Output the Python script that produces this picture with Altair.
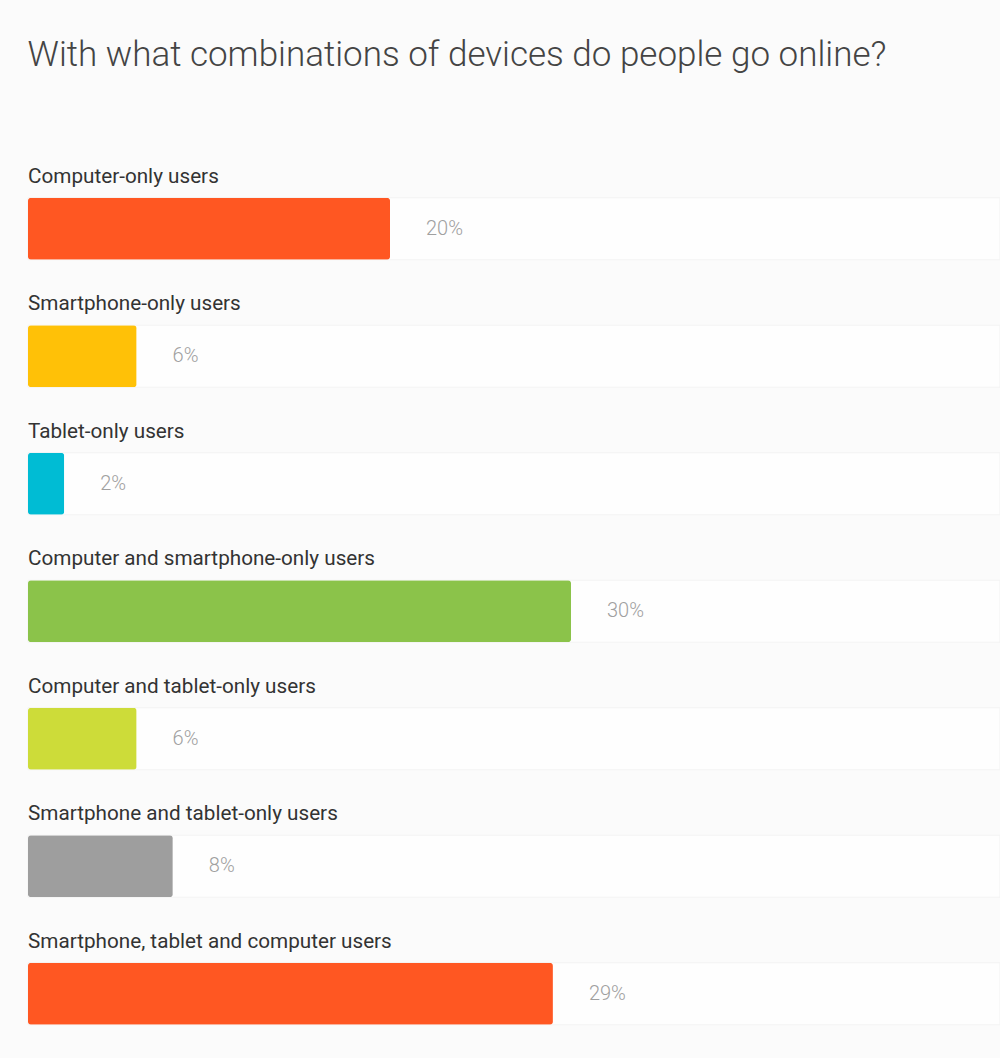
import altair as alt
import pandas as pd

categories = [
    "Computer-only users",
    "Smartphone-only users",
    "Tablet-only users",
    "Computer and smartphone-only users",
    "Computer and tablet-only users",
    "Smartphone and tablet-only users",
    "Smartphone, tablet and computer users",
]
values = [20, 6, 2, 30, 6, 8, 29]
colors = ["#FF5722", "#FFC107", "#00BCD4", "#8BC34A", "#CDDC39", "#9E9E9E", "#FF5722"]
x_max = 53.7

df = pd.DataFrame({
    "cat": categories,
    "value": values,
    "color": colors,
    "label": [f"{v}%" for v in values],
    "track": [x_max] * len(values),
})

y = alt.Y("cat:N", sort=categories, axis=None,
          scale=alt.Scale(paddingInner=0, paddingOuter=0))
xs = alt.Scale(domain=[0, x_max], nice=False, zero=True)

base = alt.Chart(df)

track = base.mark_bar(height=62, fill="#fefefe", stroke="#f3f3f3", strokeWidth=1).encode(
    x=alt.X("track:Q", scale=xs, axis=None), y=y)

bars = base.mark_bar(height=62, cornerRadius=3).encode(
    x=alt.X("value:Q", scale=xs, axis=None), y=y,
    color=alt.Color("color:N", scale=None))

vals = base.mark_text(align="left", baseline="middle", dx=36, fontSize=20,
                      font="Roboto", fontWeight=300, color="#a0a0a0").encode(
    x=alt.X("value:Q", scale=xs, axis=None), y=y, text="label:N")

cats = base.mark_text(align="left", baseline="middle", dy=-52, fontSize=20.7,
                      font="Roboto", color="#333333").encode(
    x=alt.value(0), y=y, text="cat:N")

chart = alt.layer(track, bars, vals, cats).properties(
    width=972,
    height=892.5,
    title=alt.TitleParams(
        "With what combinations of devices do people go online?",
        anchor="start", font="Roboto", fontSize=35, fontWeight=300,
        color="#444444", baseline="alphabetic", offset=64),
    autosize=alt.AutoSizeParams(type="none"),
    padding={"left": 28, "top": 165, "right": 0, "bottom": 0},
    background="#fbfbfb",
).configure_view(stroke=None)

chart.save("out.html", embed_options={"renderer": "svg", "actions": False})
